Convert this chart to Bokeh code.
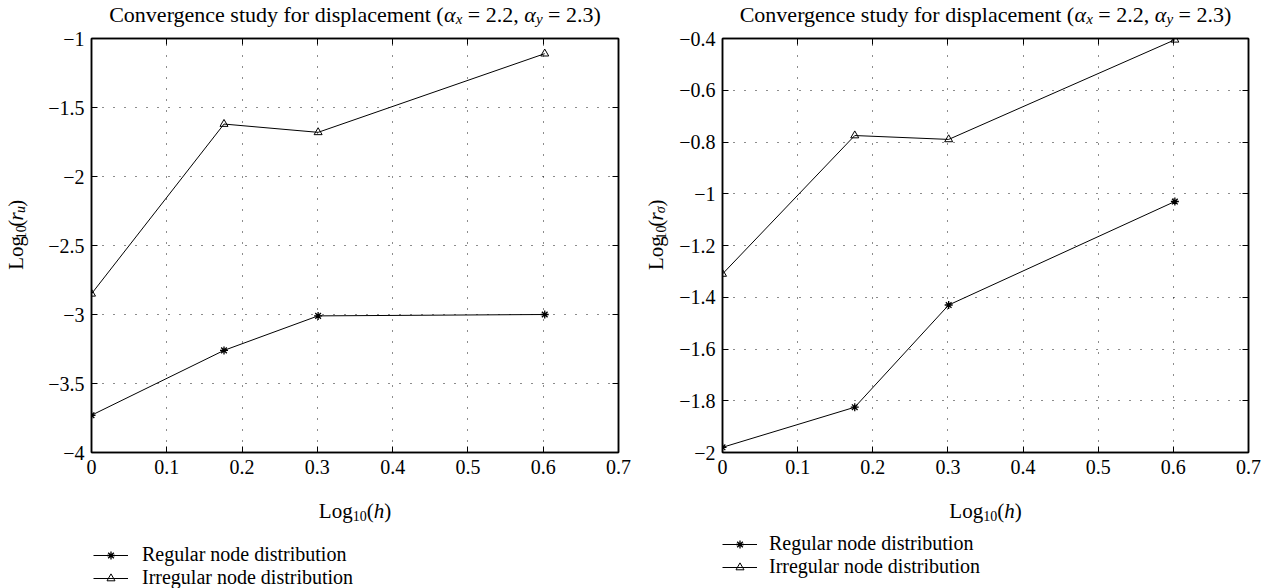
import math
import numpy as np
from bokeh.plotting import figure
from bokeh.models import (LinearAxis, FixedTicker, Label, Legend, LegendItem,
                          Range1d, Grid, CustomJSTickFormatter)
from bokeh.layouts import row, column
from bokeh.embed import file_html
from bokeh.resources import INLINE

# ---------------- data ----------------
log_h = [0, 0.176, 0.301, 0.602]
u_regular = [-3.73, -3.26, -3.01, -3.00]
u_irregular = [-2.85, -1.62, -1.68, -1.11]
s_regular = [-1.98, -1.825, -1.43, -1.03]
s_irregular = [-1.31, -0.775, -0.79, -0.405]

x_ticks = [0, 0.1, 0.2, 0.3, 0.4, 0.5, 0.6, 0.7]
x_tick_labels = ["0", "0.1", "0.2", "0.3", "0.4", "0.5", "0.6", "0.7"]
u_ticks = [-4, -3.5, -3, -2.5, -2, -1.5, -1]
u_tick_labels = ["\u22124", "\u22123.5", "\u22123", "\u22122.5", "\u22122", "\u22121.5", "\u22121"]
s_ticks = [-2, -1.8, -1.6, -1.4, -1.2, -1, -0.8, -0.6, -0.4]
s_tick_labels = ["\u22122", "\u22121.8", "\u22121.6", "\u22121.4", "\u22121.2", "\u22121",
                 "\u22120.8", "\u22120.6", "\u22120.4"]
legend_labels = ["Regular node distribution", "Irregular node distribution"]
title_main = "Convergence study for displacement ("
alpha_x_val = " = 2.2, "
alpha_y_val = " = 2.3)"

FONT = "Liberation Serif"
H = 588

REG = {' ': 250, '(': 333, ')': 333, '=': 564, '.': 250, ',': 250, 'C': 667, 'L': 611,
       'a': 444, 'c': 444, 'd': 500, 'e': 444, 'f': 333, 'g': 500, 'h': 500, 'i': 278,
       'l': 278, 'm': 778, 'n': 500, 'o': 500, 'p': 500, 'r': 333, 's': 389, 't': 278,
       'u': 500, 'v': 500, 'y': 500, 'x': 500}
ITA = {'h': 500, 'r': 389, 'u': 500, 'x': 444, 'y': 444, '\u03b1': 530, '\u03c3': 520}


def tw(text, italic):
    tbl = ITA if italic else REG
    return sum(tbl.get(c, 500) for c in text) / 1000.0


def strip(w, h):
    f = figure(width=w, height=h, x_range=Range1d(0, w), y_range=Range1d(h, 0),
               output_backend="svg", toolbar_location=None, x_axis_type=None,
               y_axis_type=None, min_border=0)
    f.outline_line_color = None
    f.background_fill_color = "white"
    f.border_fill_color = "white"
    return f


def rich(f, pieces, cx, cy, angle=0.0):
    """Place a run of differently styled text pieces centred on (cx, cy)."""
    total = sum(tw(t, it) * sz for t, it, sz, sh in pieces)
    pos = -total / 2
    for t, it, sz, sh in pieces:
        lead = len(t) - len(t.lstrip(' '))
        st = t.strip(' ')
        off = pos + tw(' ' * lead, it) * sz
        if st:
            if angle == 0:
                px, py = cx + off, cy + sh
            else:
                px, py = cx + sh, cy - off
            f.add_layout(Label(x=px, y=py, text=st, text_font=FONT,
                               text_font_size=f"{sz}px",
                               text_font_style="italic" if it else "normal",
                               text_color="black", text_baseline="alphabetic",
                               text_align="left", angle=angle))
        pos += tw(t, it) * sz


def style_axis(ax, ticks, labels, show):
    ax.ticker = FixedTicker(ticks=ticks)
    ax.axis_line_color = "black"
    ax.axis_line_width = 1.5
    ax.major_tick_in = 6
    ax.major_tick_out = 0
    ax.major_tick_line_color = "black"
    ax.minor_tick_line_color = None
    if show:
        ax.formatter = CustomJSTickFormatter(
            args=dict(tv=ticks, tl=labels),
            code="const i = tv.findIndex(v => Math.abs(v - tick) < 1e-9);"
                 "return i >= 0 ? tl[i] : '';")
        ax.major_label_text_font = FONT
        ax.major_label_text_font_size = "20px"
        ax.major_label_text_color = "black"
        ax.major_label_standoff = 7
    else:
        ax.formatter = CustomJSTickFormatter(code="return '';")
        ax.major_label_text_font_size = "0px"
        ax.major_label_standoff = 0


def make_panel(yl_w, fl, fr, yticks, ylabels, yrange, reg, irr, ysub, ylab_x,
               leg_x, leg_bottom, leg_standoff):
    W = 634
    top_h, frame_top, frame_bot, bot_border = 27, 38, 452, 34
    main_h = frame_bot + bot_border - top_h
    main_w = W - yl_w

    # ---- main plot ----
    p = figure(width=main_w, height=main_h, x_range=Range1d(0, 0.7),
               y_range=Range1d(*yrange), output_backend="svg", toolbar_location=None,
               x_axis_type=None, y_axis_type=None,
               min_border_left=fl - yl_w, min_border_right=W - fr,
               min_border_top=frame_top - top_h, min_border_bottom=bot_border)
    p.outline_line_color = "black"
    p.outline_line_width = 1.5
    p.background_fill_color = "white"
    p.border_fill_color = "white"

    for side, ticks, labels, show in (("below", x_ticks, x_tick_labels, True),
                                      ("above", x_ticks, x_tick_labels, False),
                                      ("left", yticks, ylabels, True),
                                      ("right", yticks, ylabels, False)):
        ax = LinearAxis()
        style_axis(ax, ticks, labels, show)
        p.add_layout(ax, side)

    for dim, ticks in ((0, x_ticks), (1, yticks)):
        g = Grid(dimension=dim, ticker=FixedTicker(ticks=ticks))
        g.grid_line_color = "black"
        g.grid_line_dash = "1 10"
        g.grid_line_width = 1
        g.grid_line_alpha = 0.9
        p.add_layout(g)

    p.line(log_h, reg, line_color="black", line_width=1)
    p.scatter(log_h, reg, marker="asterisk", size=8, line_color="black", line_width=1.3)
    p.line(log_h, irr, line_color="black", line_width=1)
    p.scatter(log_h, irr, marker="triangle", size=8, line_color="black",
              fill_color=None, line_width=1)

    # ---- title strip ----
    t = strip(W, top_h)
    rich(t, [(title_main, False, 22, 0), ("\u03b1", True, 22, 0), ("x", True, 15, 4),
             (alpha_x_val, False, 22, 0), ("\u03b1", True, 22, 0), ("y", True, 15, 4),
             (alpha_y_val, False, 22, 0)], (fl + fr) / 2.0, 14)

    # ---- y label strip ----
    yl = strip(yl_w, main_h)
    rich(yl, [("Log", False, 21, 0), ("10", False, 14, 5), ("(", False, 21, 0),
              ("r", True, 21, 0), (ysub, True, 14, 5), (")", False, 21, 0)],
         ylab_x, (frame_top + frame_bot) / 2.0 - top_h, angle=math.pi / 2)

    # ---- bottom strip: x label + legend ----
    b_top = frame_bot + bot_border
    b = strip(W, H - b_top)
    rich(b, [("Log", False, 21, 0), ("10", False, 14, 5), ("(", False, 21, 0),
             ("h", True, 21, 0), (")", False, 21, 0)], (fl + fr) / 2.0, 510 - b_top)
    # legend keys (no visible data, only their legend glyphs are drawn)
    nan = np.array([np.nan])
    k1 = b.line(x=nan, y=nan, line_color="black", line_width=1)
    k2 = b.scatter(x=nan, y=nan, marker="asterisk", size=8, line_color="black",
                   line_width=1.3)
    k3 = b.line(x=nan, y=nan, line_color="black", line_width=1)
    k4 = b.scatter(x=nan, y=nan, marker="triangle", size=8, line_color="black",
                   fill_color=None, line_width=1)
    legend = Legend(items=[LegendItem(label=legend_labels[0], renderers=[k1, k2]),
                           LegendItem(label=legend_labels[1], renderers=[k3, k4])],
                    location=(leg_x, leg_bottom), padding=0, margin=0, spacing=-3,
                    glyph_width=35, glyph_height=20, label_height=20,
                    label_standoff=leg_standoff, label_text_font=FONT,
                    label_text_font_size="20px", label_text_color="black",
                    border_line_color=None, background_fill_alpha=0)
    b.add_layout(legend, "center")

    return column(t, row(yl, p), b)


left = make_panel(40, 91, 618, u_ticks, u_tick_labels, (-4, -1), u_regular, u_irregular,
                  "u", 15, 93, -1, 14)
right = make_panel(40, 88, 614, s_ticks, s_tick_labels, (-2, -0.4), s_regular, s_irregular,
                   "\u03c3", 21, 88, 10, 12)

layout = row(left, right)
open("out.html", "w").write(file_html(layout, INLINE))
